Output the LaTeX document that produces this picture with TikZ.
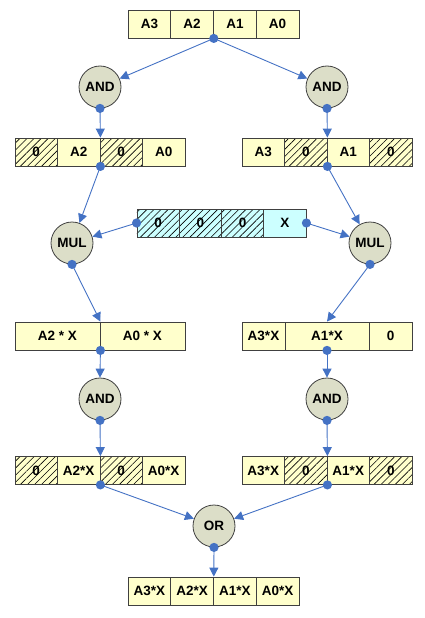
\documentclass[tikz,border=0pt]{standalone}
\usepackage{fontspec}
\setmainfont{Liberation Sans}
\usetikzlibrary{arrows.meta,patterns.meta}
\definecolor{cellyel}{HTML}{FFFFCC}
\definecolor{cellcyan}{HTML}{CCFFFF}
\definecolor{opfill}{HTML}{DCDEC8}
\definecolor{edgegray}{HTML}{404040}
\definecolor{connblue}{HTML}{4472C4}
\tikzset{
  cellbase/.style={draw=edgegray, line width=0.8pt, minimum height=28pt, inner sep=0pt,
    font=\bfseries\fontsize{13.5}{15}\selectfont, text=black},
  ycell/.style={cellbase, fill=cellyel, minimum width=#1},
  ycell/.default=42.6pt,
  hcell/.style={cellbase, minimum width=#1,
    preaction={fill=cellyel},
    pattern={Lines[angle=45,distance=5pt,line width=0.6pt]}, pattern color=black},
  hcell/.default=42.6pt,
  ccell/.style={cellbase, fill=cellcyan, minimum width=42.25pt},
  chcell/.style={cellbase, minimum width=42.25pt,
    preaction={fill=cellcyan},
    pattern={Lines[angle=45,distance=5pt,line width=0.6pt]}, pattern color=black},
  opnode/.style={circle, draw=edgegray, line width=0.8pt, fill=opfill, minimum size=42pt,
    inner sep=0pt, font=\bfseries\fontsize{13.5}{15}\selectfont},
  conn/.style={draw=connblue, line width=0.9pt, -{Triangle[length=9pt,width=9pt]}},
  dotmark/.style={fill=connblue, draw=none}
}
\begin{document}
\begin{tikzpicture}[x=1pt,y=-1pt]
\useasboundingbox (0,0) rectangle (425,618);
% top register
\node[ycell] (t3) at (149.4,24) {A3};
\node[ycell] (t2) at (192.1,24) {A2};
\node[ycell] (t1) at (234.9,24) {A1};
\node[ycell] (t0) at (277.6,24) {A0};
% AND level 1
\node[opnode] (andL1) at (100,87) {AND};
\node[opnode] (andR1) at (327,87) {AND};
% row 2 left
\node[hcell=42.5pt] (l2a) at (36.25,152) {0};
\node[ycell=42.5pt] (l2b) at (78.75,152) {A2};
\node[hcell=42.5pt] (l2c) at (121.25,152) {0};
\node[ycell=42.5pt] (l2d) at (163.75,152) {A0};
% row 2 right
\node[ycell=42.5pt] (r2a) at (263.25,152) {A3};
\node[hcell=42.5pt] (r2b) at (305.75,152) {0};
\node[ycell=42.5pt] (r2c) at (348.25,152) {A1};
\node[hcell=42.5pt] (r2d) at (390.75,152) {0};
% cyan register
\node[chcell] (c3) at (158.1,223) {0};
\node[chcell] (c2) at (200.4,223) {0};
\node[chcell] (c1) at (242.6,223) {0};
\node[ccell] (c0) at (284.9,223) {X};
% MUL
\node[opnode] (mulL) at (72,243) {MUL};
\node[opnode] (mulR) at (370,243) {MUL};
% row 3 left
\node[ycell=85pt] (l3a) at (57.5,336) {A2 * X};
\node[ycell=85pt] (l3b) at (142.5,336) {A0 * X};
% row 3 right
\node[ycell=43pt] (r3a) at (263.5,336) {A3*X};
\node[ycell=84pt] (r3b) at (327,336) {A1*X};
\node[ycell=43pt] (r3c) at (390.5,336) {0};
% AND level 2
\node[opnode] (andL2) at (100,399) {AND};
\node[opnode] (andR2) at (327,399) {AND};
% row 4 left
\node[hcell=42.5pt] (l4a) at (36.25,470.5) {0};
\node[ycell=42.5pt] (l4b) at (78.75,470.5) {A2*X};
\node[hcell=42.5pt] (l4c) at (121.25,470.5) {0};
\node[ycell=42.5pt] (l4d) at (163.75,470.5) {A0*X};
% row 4 right
\node[ycell=42.5pt] (r4a) at (263.25,470.5) {A3*X};
\node[hcell=42.5pt] (r4b) at (305.75,470.5) {0};
\node[ycell=42.5pt] (r4c) at (348.25,470.5) {A1*X};
\node[hcell=42.5pt] (r4d) at (390.75,470.5) {0};
% OR
\node[opnode] (or) at (214,526) {OR};
% bottom register
\node[ycell] (b3) at (149.4,591) {A3*X};
\node[ycell] (b2) at (192.1,591) {A2*X};
\node[ycell] (b1) at (234.9,591) {A1*X};
\node[ycell] (b0) at (277.6,591) {A0*X};
% connectors
\draw[conn] (t2.south east) -- (andL1);
\draw[conn] (t2.south east) -- (andR1);
\draw[conn] (andL1.south) -- (l2b.north east);
\draw[conn] (andR1.south) -- (r2b.north east);
\draw[conn] (l2b.south east) -- (mulL);
\draw[conn] (c3.west) -- (mulL);
\draw[conn] (r2b.south east) -- (mulR);
\draw[conn] (c0.east) -- (mulR);
\draw[conn] (mulL.south) -- (l3a.north east);
\draw[conn] (mulR.south) -- (r3b.north);
\draw[conn] (l3a.south east) -- (andL2.north);
\draw[conn] (r3b.south) -- (andR2.north);
\draw[conn] (andL2.south) -- (l4b.north east);
\draw[conn] (andR2.south) -- (r4b.north east);
\draw[conn] (l4b.south east) -- (or);
\draw[conn] (r4b.south east) -- (or);
\draw[conn] (or.south) -- (b2.north east);
% dots
\foreach \p in {t2.south east, andL1.south, andR1.south, l2b.south east, r2b.south east,
  c3.west, c0.east, mulL.south, mulR.south, l3a.south east, r3b.south,
  andL2.south, andR2.south, l4b.south east, r4b.south east, or.south}
  \fill[dotmark] (\p) circle (4.6pt);
\end{tikzpicture}
\end{document}
